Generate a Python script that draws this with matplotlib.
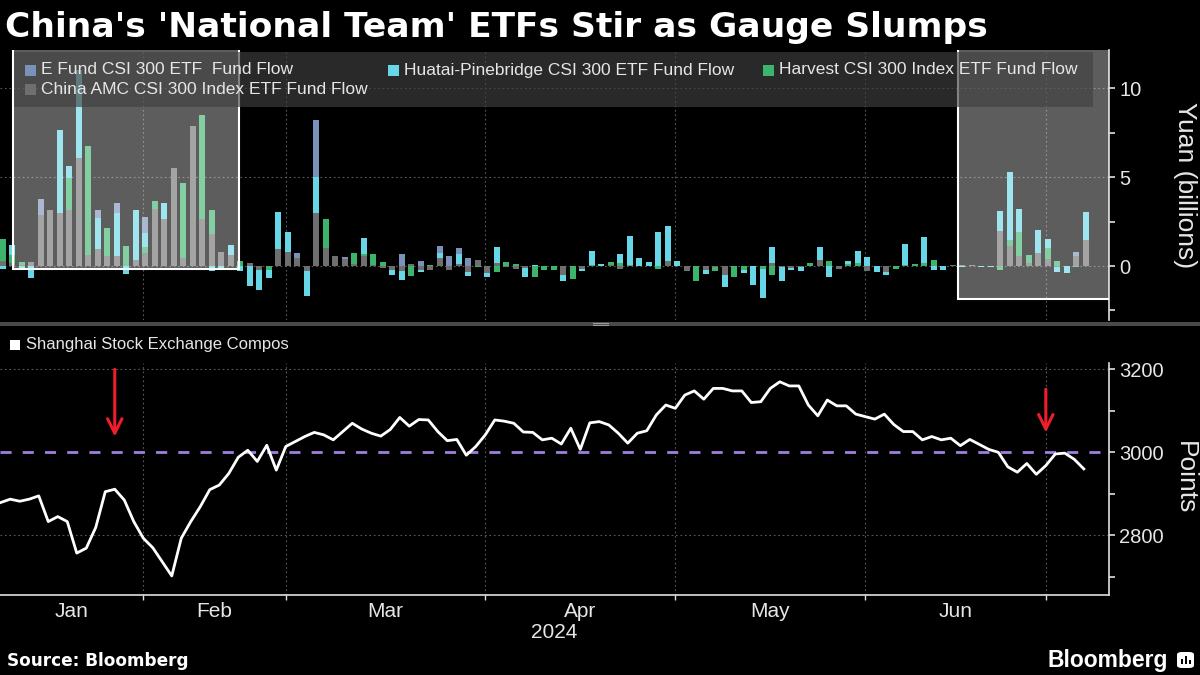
import numpy as np
import pandas as pd
import matplotlib
matplotlib.use("Agg")
import matplotlib.pyplot as plt
from matplotlib.patches import Rectangle, FancyBboxPatch

plt.rcParams['font.family'] = ['Liberation Sans', 'DejaVu Sans']

# Días hábiles de la bolsa de Shanghai (10 ene - 4 jul 2024)
feriados = ['2024-02-09', '2024-02-12', '2024-02-13', '2024-02-14', '2024-02-15',
            '2024-02-16', '2024-04-04', '2024-04-05', '2024-05-01', '2024-05-02',
            '2024-05-03', '2024-06-10']
fechas = pd.bdate_range('2024-01-10', '2024-07-04').drop(pd.to_datetime(feriados))

# Flujos de fondos (miles de millones de yuanes)
china_amc = [0.3, 0.15, 0.05, 0.25, 2.87, 3.15, 3.0, 3.15, 6.06, 0.62,
             0.96, 0.58, 0.58, 0, 0.34, 0.71, 3.2, 2.64, 5.53, 0.43,
             7.88, 2.64, 1.8, 0.8, 0.62, 0, 0.15, -0.25, 0, 0.94,
             0.77, 0.43, -0.26, 2.96, 1.0, 0.56, 0.4, 0.1, 0.58, 0.05,
             -0.1, -0.2, -0.3, 0.1, -0.2, -0.25, 0.43, -0.2, 0.1, -0.35,
             0.34, -0.38, 0.19, -0.05, -0.17, -0.13, 0, 0, 0, -0.5,
             0, -0.19, 0, 0, 0.05, -0.15, 0, 0, 0, 0,
             0.3, 0, -0.3, 0, -0.2, -0.05, -0.5, 0, 0, 0,
             0, 0.15, -0.05, -0.1, -0.08, 0, 0.34, 0, -0.17, 0,
             0, -0.26, 0, -0.32, 0, 0, 0, 0, 0, 0,
             0.05, 0.04, 0.05, 0, 0, 1.97, 1.13, 0.56, 0.15, 0.75,
             0.39, -0.07, 0, 0.56, 1.46]
harvest = [1.2, 0.45, 0.15, 0, 0, 0, 0, 1.78, 0, 6.13,
           0, 1.58, 0, 1.1, 0, 0.38, 0.45, 0, 0, 4.22,
           0, 5.85, 1.35, 0, 0, 0.3, 0, 0, -0.2, 0,
           0, 0, 0, 0, 1.63, 0, 0, 0.65, 0.1, 0.65,
           0.25, 0, 0, -0.55, 0, 0.05, 0, 0, 0, 0,
           -0.05, 0, -0.32, 0.22, 0.1, 0, -0.6, -0.22, -0.22, 0,
           -0.73, 0, 0.05, 0, 0.2, 0.15, 0.05, 0, 0, -0.17,
           0, 0, 0, -0.83, 0, -0.22, 0, -0.6, -0.22, 0,
           -0.19, -0.5, 0, 0, 0, 0.18, 0, 0.3, 0, 0.1,
           0.15, 0, 0, 0, -0.19, 0.05, 0.1, 0.15, 0.34, 0,
           0, 0, 0, 0, 0, -0.23, 0.34, 1.37, 0.47, 0,
           0.6, 0.28, 0, -0.03, 0]
huatai = [-0.17, 0.6, -0.15, -0.7, 0, 0, 4.63, 0.7, 4.95, 0,
          1.76, 0, 2.42, -0.45, 2.8, 0.75, 0, 0.88, 0, 0,
          0, 0, -0.26, -0.17, 0.56, -0.3, -1.15, -1.1, -0.45, 2.12,
          1.13, 0, -1.45, 2.06, 0, 0, 0, 0, 0.88, 0,
          0, -0.3, -0.5, 0, -0.15, 0, 0.28, 0, 0.6, -0.22,
          0, -0.22, 0.88, 0, 0, -0.47, 0.05, 0, 0, -0.34,
          0, -0.08, 0.79, 0.1, 0, 0.53, 1.63, 0.47, 0.24, 1.91,
          1.95, 0.3, 0, 0, -0.25, 0, -0.66, 0, -0.15, -1.07,
          -1.6, 0.94, -0.8, -0.12, -0.22, 0, 0.75, -0.6, 0, 0.2,
          0.7, 0.53, -0.32, -0.2, 0, 1.2, 0, 1.46, -0.22, -0.22,
          0, -0.04, 0, -0.05, -0.05, 1.13, 3.85, 1.28, 0, 1.28,
          0.53, -0.25, -0.38, 0, 1.6]
efund = [0, 0, 0, 0, 0.9, 0, 0, 0, 0, 0,
         0.43, 0, 0.53, 0, 0, 0.94, 0, 0, 0, 0,
         0, 0, 0, 0, 0, 0, 0, 0, 0, 0,
         0, 0.28, 0, 3.19, 0, 0, 0.13, 0, 0, 0,
         0, 0, 0.65, 0, 0.3, 0, 0.42, 0.55, 0.34, 0.45,
         0, 0, 0, 0, 0, 0, 0, 0, 0, 0,
         0, 0, 0, 0, 0, 0, 0, 0, 0, 0,
         0, 0, 0, 0, 0, 0, 0, 0, 0, 0,
         0, 0, 0, 0, 0, 0, 0, 0, 0, 0,
         0, 0, 0, 0, 0, 0, 0, 0, 0, 0,
         0, 0, 0, 0, 0, 0, 0, 0, 0, 0,
         0, 0, 0, 0.24, 0]

# Índice compuesto de Shanghai (puntos)
shanghai = [2879, 2887, 2882, 2887, 2895, 2833, 2845, 2833, 2757, 2769,
            2819, 2905, 2911, 2885, 2833, 2793, 2770, 2736, 2702, 2793,
            2833, 2869, 2910, 2921, 2949, 2988, 3005, 2978, 3017, 2957,
            3014, 3026, 3038, 3048, 3042, 3030, 3050, 3070, 3056, 3046,
            3039, 3055, 3084, 3063, 3079, 3078, 3050, 3028, 3031, 2993,
            3014, 3042, 3078, 3075, 3070, 3049, 3048, 3030, 3034, 3020,
            3058, 3007, 3071, 3074, 3066, 3046, 3022, 3046, 3052, 3090,
            3114, 3106, 3138, 3148, 3128, 3154, 3154, 3148, 3148, 3120,
            3122, 3154, 3170, 3160, 3160, 3114, 3088, 3126, 3112, 3112,
            3092, 3086, 3080, 3092, 3067, 3050, 3050, 3030, 3038, 3030,
            3034, 3016, 3031, 3019, 3007, 3000, 2965, 2952, 2973, 2947,
            2968, 2996, 2998, 2983, 2960]

nombres = ['E Fund CSI 300 ETF  Fund Flow', 'Huatai-Pinebridge CSI 300 ETF Fund Flow',
           'Harvest CSI 300 Index ETF Fund Flow', 'China AMC CSI 300 Index ETF Fund Flow']
meses = ['Jan', 'Feb', 'Mar', 'Apr', 'May', 'Jun']

c_gris, c_verde, c_cian, c_azul = '#6f6f6f', '#3db46b', '#67d7e7', '#7a91b9'
texto = '#e6e6e6'
rejilla = '#5a5a5a'

n = len(fechas)
x = np.arange(n)
# último día hábil de cada mes -> líneas de la rejilla vertical
limites = [i for i in range(n - 1) if fechas[i].month != fechas[i + 1].month]
xmin, xmax = -0.08, 116.65
bordes = [xmin] + limites
centros = [(bordes[i] + bordes[i + 1]) / 2 for i in range(len(meses))]

W, H = 1200, 675
fig = plt.figure(figsize=(12, 6.75), dpi=100, facecolor='black')

ax1 = fig.add_axes([0, 1 - 320 / H, 1109 / W, (320 - 50) / H])
ax2 = fig.add_axes([0, 1 - 595 / H, 1109 / W, (595 - 362.7) / H])

for ax in (ax1, ax2):
    ax.set_facecolor('black')
    for s in ax.spines.values():
        s.set_visible(False)
    ax.spines['right'].set_visible(True)
    ax.spines['right'].set_color('#e0e0e0')
    ax.spines['right'].set_linewidth(1.2)
    ax.yaxis.tick_right()
    ax.set_xlim(xmin, xmax)
    ax.tick_params(axis='y', which='both', direction='out', length=4.3, width=1.2,
                   color='#e0e0e0', labelcolor=texto, labelsize=14.5, pad=3)
    for b in limites:
        ax.axvline(b, color=rejilla, ls=(0, (1.5, 2.5)), lw=0.8, zorder=1)

# --- Panel superior: barras apiladas ---
base_pos = np.zeros(n)
base_neg = np.zeros(n)
for vals, col in zip([china_amc, harvest, huatai, efund], [c_gris, c_verde, c_cian, c_azul]):
    v = np.array(vals, dtype=float)
    pos = np.where(v > 0, v, 0)
    neg = np.where(v < 0, v, 0)
    ax1.bar(x + 0.2, pos, bottom=base_pos, width=0.63, color=col, lw=0, zorder=2)
    ax1.bar(x + 0.2, neg, bottom=base_neg, width=0.63, color=col, lw=0, zorder=2)
    base_pos += pos
    base_neg += neg

ax1.set_ylim(-3.04, 12.16)
ax1.set_yticks([0, 5, 10])
ax1.set_yticks([-2.5, 2.5, 7.5], minor=True)
ax1.tick_params(axis='x', which='both', length=0, labelbottom=False)
for yv in [0, 5, 10]:
    ax1.axhline(yv, color=rejilla, ls=(0, (1.5, 2.5)), lw=0.8, zorder=1)

# recuadros resaltados
for x0, y0 in [(1.25, -0.17), (100.8, -1.87)]:
    ax1.add_patch(Rectangle((x0, y0), 25.1 - 1.25 if x0 < 50 else 20, 15,
                            facecolor='white', alpha=0.37, edgecolor='none', zorder=3))
    ax1.add_patch(Rectangle((x0, y0), 25.1 - 1.25 if x0 < 50 else 20, 15,
                            facecolor='none', edgecolor='white', lw=1.5, zorder=3))

# --- Panel inferior: índice ---
ax2.plot(x, shanghai, color='white', lw=2, zorder=3)
ax2.axhline(3000, color='#a07fdc', lw=2, ls=(0, (4, 4)), zorder=2)
for yv in [2800, 3200]:
    ax2.axhline(yv, color=rejilla, ls=(0, (1.5, 2.5)), lw=0.8, zorder=1)
ax2.set_ylim(2656, 3216)
ax2.set_yticks([2800, 3000, 3200])
ax2.set_yticks([2700, 2900, 3100], minor=True)
ax2.spines['bottom'].set_visible(True)
ax2.spines['bottom'].set_color('#e0e0e0')
ax2.spines['bottom'].set_linewidth(1.2)
ax2.set_xticks(limites)
ax2.set_xticklabels([])
ax2.set_xticks(centros, minor=True)
ax2.set_xticklabels(meses, minor=True)
ax2.tick_params(axis='x', which='major', direction='out', length=3.5, width=1,
                color='#e0e0e0')
ax2.tick_params(axis='x', which='minor', length=0, labelsize=15, labelcolor=texto, pad=5)
fig.text(554.5 / W, 1 - 633 / H, '2024', color=texto, fontsize=15, ha='center', va='center')

# flechas rojas
for xi, y0, y1 in [(12, 3200, 3038), (110, 3152, 3048)]:
    ax2.annotate('', xy=(xi, y1), xytext=(xi, y0),
                 arrowprops=dict(arrowstyle='->', color='#f01e2c', lw=2.2,
                                 mutation_scale=26, shrinkA=0, shrinkB=0), zorder=4)

# --- Textos y leyendas ---
fig.text(5 / W, 1 - 37 / H, "China's 'National Team' ETFs Stir as Gauge Slumps",
         color='white', fontsize=24.8, fontweight='bold', family='DejaVu Sans',
         ha='left', va='baseline')

fig.patches.append(Rectangle((14 / W, 1 - 107 / H), (1093 - 14) / W, 55 / H,
                             transform=fig.transFigure, facecolor='#404040', alpha=0.65,
                             edgecolor='none', zorder=5))
entradas = [(nombres[0], c_azul, 25, 70), (nombres[1], c_cian, 388, 70),
            (nombres[2], c_verde, 763, 70), (nombres[3], c_gris, 25, 89)]
for nom, col, px, py in entradas:
    fig.patches.append(Rectangle((px / W, 1 - (py + 5.5) / H), 11 / W, 11 / H,
                                 transform=fig.transFigure, facecolor=col,
                                 edgecolor='none', zorder=6))
    fig.text((px + 16) / W, 1 - py / H, nom, color=texto, fontsize=12.5,
             ha='left', va='center', zorder=7)

# separador entre paneles
fig.patches.append(Rectangle((0, 1 - 326 / H), 1, 4.5 / H, transform=fig.transFigure,
                             facecolor='#4a4a4a', edgecolor='none', zorder=5))
for py in [322.8, 324.8]:
    fig.lines.append(plt.Line2D([593 / W, 608 / W], [1 - py / H, 1 - py / H],
                                transform=fig.transFigure, color='#9a9a9a', lw=0.8,
                                zorder=6))

fig.patches.append(Rectangle((10 / W, 1 - 350 / H), 10 / W, 10 / H,
                             transform=fig.transFigure, facecolor='white',
                             edgecolor='none', zorder=6))
fig.text(26 / W, 1 - 345 / H, 'Shanghai Stock Exchange Compos', color=texto,
         fontsize=12, ha='left', va='center')

fig.text(1185 / W, 1 - 185 / H, 'Yuan (billions)', color=texto, fontsize=19,
         rotation=-90, ha='center', va='center')
fig.text(1185 / W, 1 - 478 / H, 'Points', color=texto, fontsize=19,
         rotation=-90, ha='center', va='center')

fig.text(7 / W, 1 - 661 / H, 'Source: Bloomberg', color='white', fontsize=12.2,
         fontweight='bold', family='DejaVu Sans', ha='left', va='center')
fig.text(1168 / W, 1 - 660 / H, 'Bloomberg', color='white', fontsize=16.5,
         fontweight='bold', ha='right', va='center')
fig.patches.append(FancyBboxPatch((1177 / W, 1 - 668 / H), 17 / W, 16 / H,
                                  boxstyle='round,pad=0,rounding_size=0.004',
                                  transform=fig.transFigure, facecolor='white',
                                  edgecolor='none', zorder=6))
for bx, bh in [(1181, 5), (1185, 8), (1189, 4)]:
    fig.patches.append(Rectangle((bx / W, 1 - 664 / H), 2 / W, bh / H,
                                 transform=fig.transFigure, facecolor='black',
                                 edgecolor='none', zorder=7))

fig.savefig('out.png', dpi=100, facecolor='black')
